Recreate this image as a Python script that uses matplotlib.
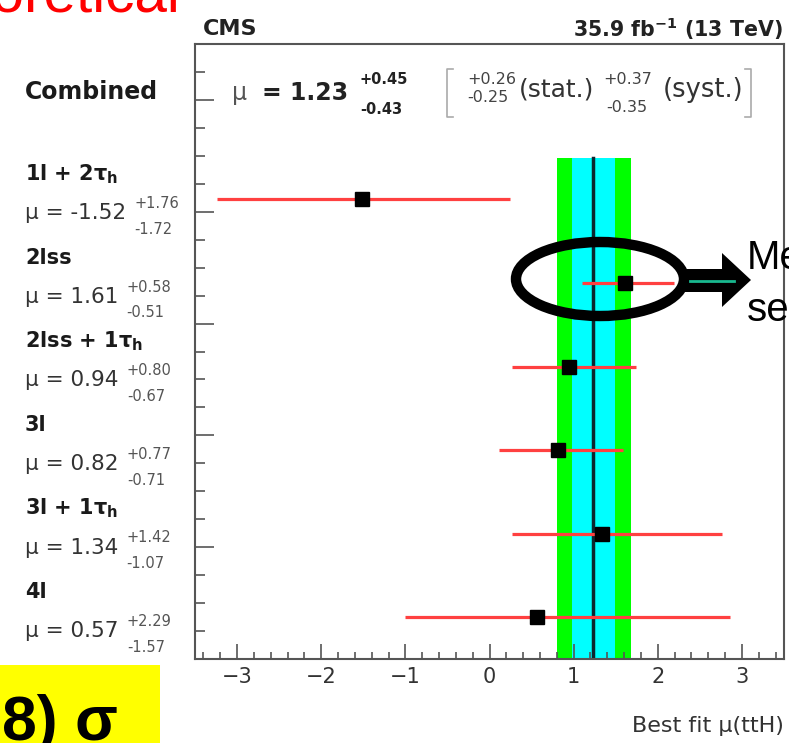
import numpy as np
import matplotlib
matplotlib.use('Agg')
import matplotlib.pyplot as plt
import matplotlib.transforms as mtransforms
from matplotlib.patches import Ellipse, Polygon, Rectangle
from matplotlib.ticker import MultipleLocator

plt.rcParams['font.family'] = ['DejaVu Sans']
plt.rcParams['mathtext.fontset'] = 'dejavusans'

# per-channel best fit signal strengths, top row first
channels = ['1l + 2τ$_\\mathbf{h}$', '2lss', '2lss + 1τ$_\\mathbf{h}$',
            '3l', '3l + 1τ$_\\mathbf{h}$', '4l']
mu_best = [-1.52, 1.61, 0.94, 0.82, 1.34, 0.57]
err_up = [1.76, 0.58, 0.80, 0.77, 1.42, 2.29]
err_dn = [1.72, 0.51, 0.67, 0.71, 1.07, 1.57]

# combined result
mu_comb = 1.23
comb_up, comb_dn = 0.45, 0.43
stat_up, stat_dn = 0.26, 0.25
syst_up, syst_dn = 0.37, 0.35

W, H = 789, 743
fig = plt.figure(figsize=(W / 100, H / 100), dpi=100)
ax = fig.add_axes([195 / W, 1 - 659 / H, 589 / W, 615 / H])

ymax = 7.36
rows = np.arange(len(channels))[::-1] + 0.5
band_top = len(channels)

# combined total / stat bands and central value
ax.fill_betweenx([0, band_top], mu_comb - comb_dn, mu_comb + comb_up,
                 color='#00ff00', lw=0, zorder=1)
ax.fill_betweenx([0, band_top], mu_comb - stat_dn, mu_comb + stat_up,
                 color='#00ffff', lw=0, zorder=1)
ax.plot([mu_comb, mu_comb], [0, band_top], color='#0b2830', lw=2.5, zorder=2)

ax.errorbar(mu_best, rows, xerr=[err_dn, err_up], fmt='s', color='black',
            ecolor='#ff4040', elinewidth=2.3, capsize=0, markersize=10, zorder=3)

ax.set_xlim(-3.5, 3.5)
ax.set_ylim(0, ymax)
ax.xaxis.set_major_locator(MultipleLocator(1))
ax.xaxis.set_minor_locator(MultipleLocator(0.2))
ax.yaxis.set_major_locator(MultipleLocator(ymax / 5.5))
ax.yaxis.set_minor_locator(MultipleLocator(ymax / 22))
ax.tick_params(axis='both', which='both', direction='in', color='#555555',
               width=1.2, top=False, right=False)
ax.tick_params(axis='x', which='major', length=11, labelsize=15,
               labelcolor='#333333', pad=6)
ax.tick_params(axis='x', which='minor', length=5)
ax.tick_params(axis='y', which='major', length=14, labelleft=False)
ax.tick_params(axis='y', which='minor', length=7)
for sp in ax.spines.values():
    sp.set_color('#555555')
    sp.set_linewidth(1.5)
ax.set_xlabel('Best fit μ(ttH)', loc='right', fontsize=16, color='#333333',
              labelpad=21)

# overlay in pixel coordinates for labels and slide annotations
over = fig.add_axes([0, 0, 1, 1], zorder=5)
over.set_xlim(0, W)
over.set_ylim(H, 0)
over.axis('off')
rowtrans = mtransforms.blended_transform_factory(over.transData, ax.transData)

for name, y, m, u, d in zip(channels, rows, mu_best, err_up, err_dn):
    over.text(25, y + 0.30, name, transform=rowtrans, fontsize=15,
              fontweight='bold', color='#1a1a1a', va='center', ha='left')
    t = over.text(25, y - 0.167, f'μ = {m:.2f}', transform=rowtrans,
                  fontsize=15.5, color='#333333', va='center', ha='left')
    over.annotate(f'+{u:.2f}', xy=(1, 0.5), xycoords=t, xytext=(6, 7),
                  textcoords='offset points', fontsize=10.5, color='#555555',
                  va='center', ha='left')
    over.annotate(f'-{d:.2f}', xy=(1, 0.5), xycoords=t, xytext=(6, -11.5),
                  textcoords='offset points', fontsize=10.5, color='#555555',
                  va='center', ha='left')

over.text(25, 92, 'Combined', fontsize=17, fontweight='bold', color='#1a1a1a',
          va='center')
over.text(232, 93, 'μ', fontsize=17, color='#555555', va='center')
over.text(262, 93, f'= {mu_comb:.2f}', fontsize=17, fontweight='bold',
          color='#222222', va='center')
over.text(360, 80, f'+{comb_up:.2f}', fontsize=10.5, fontweight='bold',
          color='#222222', va='center')
over.text(360, 110, f'-{comb_dn:.2f}', fontsize=10.5, fontweight='bold',
          color='#222222', va='center')
over.plot([453, 447, 447, 453], [69, 69, 117, 117], color='#aaaaaa', lw=1.2)
over.text(467, 79, f'+{stat_up:.2f}', fontsize=11.5, color='#444444', va='center')
over.text(467, 98, f'-{stat_dn:.2f}', fontsize=11.5, color='#444444', va='center')
over.text(519, 90, '(stat.)', fontsize=18, color='#333333', va='center')
over.text(603, 80, f'+{syst_up:.2f}', fontsize=11.5, color='#444444', va='center')
over.text(606, 107, f'-{syst_dn:.2f}', fontsize=11.5, color='#444444', va='center')
over.text(663, 90, '(syst.)', fontsize=18.5, color='#333333', va='center')
over.plot([745, 751, 751, 745], [69, 69, 117, 117], color='#aaaaaa', lw=1.2)

over.text(203, 29, 'CMS', fontsize=16, fontweight='bold', color='#222222',
          va='center')
over.text(783, 29, r'35.9 fb$^{\mathbf{-1}}$ (13 TeV)', fontsize=14.8,
          fontweight='bold', color='#222222', va='center', ha='right')

# slide annotations
over.text(181, 12, 'Theoretical', fontsize=42, color='#ff0000', ha='right',
          va='baseline', family='Liberation Sans')
over.add_patch(Rectangle((0, 665), 160, 80, color='#ffff00', lw=0))
over.text(2, 740, '8) σ', fontsize=45, fontweight='bold', color='black',
          va='baseline', family='Liberation Sans')

over.add_patch(Ellipse((600, 279), 168, 74, fill=False, lw=7.5, ec='black'))
over.add_patch(Polygon([(682, 269), (722, 269), (722, 253), (751, 280),
                        (722, 307), (722, 292), (682, 292)], closed=True,
                       fc='black', ec='none'))
over.plot([690, 734], [281, 281], color='#19b98f', lw=2)
over.text(747, 269, 'Me', fontsize=29, color='black', va='baseline',
          family='Liberation Sans')
over.text(747, 321, 'se', fontsize=29, color='black', va='baseline',
          family='Liberation Sans')

fig.savefig('out.png', dpi=100)
